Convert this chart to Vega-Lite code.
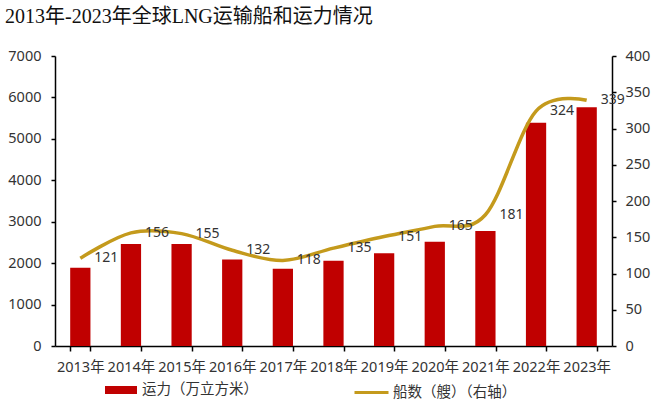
{
  "$schema": "https://vega.github.io/schema/vega-lite/v6.json",
  "width": 557,
  "height": 290,
  "autosize": {"type": "none"},
  "padding": {"left": 55, "top": 56, "right": 48, "bottom": 55},
  "background": "white",
  "title": {
    "text": "2013年-2023年全球LNG运输船和运力情况",
    "anchor": "start",
    "frame": "group",
    "font": "Liberation Serif, Noto Sans CJK SC",
    "fontSize": 20,
    "fontWeight": "normal",
    "color": "#111",
    "dx": -50,
    "offset": 21
  },
  "config": {
    "view": {"stroke": null},
    "font": "Noto Sans, Noto Sans CJK SC"
  },
  "data": {
    "values": [
      {"year": "2013年", "capacity": 1890, "ships": 121},
      {"year": "2014年", "capacity": 2460, "ships": 156},
      {"year": "2015年", "capacity": 2460, "ships": 155},
      {"year": "2016年", "capacity": 2090, "ships": 132},
      {"year": "2017年", "capacity": 1866, "ships": 118},
      {"year": "2018年", "capacity": 2059, "ships": 135},
      {"year": "2019年", "capacity": 2237, "ships": 151},
      {"year": "2020年", "capacity": 2518, "ships": 165},
      {"year": "2021年", "capacity": 2776, "ships": 181},
      {"year": "2022年", "capacity": 5390, "ships": 324},
      {"year": "2023年", "capacity": 5760, "ships": 339}
    ]
  },
  "encoding": {
    "x": {
      "field": "year",
      "type": "nominal",
      "sort": null,
      "scale": {"paddingInner": 0.6, "paddingOuter": 0.3},
      "axis": {
        "title": null,
        "labelAngle": 0,
        "tickBand": "extent",
        "domainColor": "#000",
        "domainWidth": 1.5,
        "tickColor": "#000",
        "tickWidth": 1.5,
        "tickSize": 5,
        "labelFontSize": 14.5,
        "labelColor": "#333",
        "labelPadding": 9
      }
    }
  },
  "layer": [
    {
      "mark": {"type": "bar", "color": "#C00000"},
      "encoding": {
        "y": {
          "field": "capacity",
          "type": "quantitative",
          "scale": {"domain": [0, 7000]},
          "axis": {
            "orient": "left",
            "title": null,
            "grid": false,
            "format": "d",
            "values": [0, 1000, 2000, 3000, 4000, 5000, 6000, 7000],
            "domainColor": "#000",
            "domainWidth": 1.5,
            "tickColor": "#000",
            "tickWidth": 1.5,
            "tickSize": 4,
            "labelFontSize": 14.5,
            "labelColor": "#333",
            "labelPadding": 10
          }
        },
        "color": {
          "datum": "运力（万立方米）",
          "scale": {"range": ["#C00000"]},
          "legend": {
            "orient": "none",
            "legendX": 50,
            "legendY": 318,
            "title": null,
            "padding": 0,
            "symbolType": "M-1,-0.25H1V0.25H-1Z",
            "symbolSize": 1024,
            "symbolStrokeWidth": 0,
            "labelFontSize": 14.5,
            "labelColor": "#333",
            "labelOffset": 5
          }
        }
      }
    },
    {
      "encoding": {
        "y": {
          "field": "ships",
          "type": "quantitative",
          "scale": {"domain": [0, 400]},
          "axis": {
            "orient": "right",
            "title": null,
            "grid": false,
            "values": [0, 50, 100, 150, 200, 250, 300, 350, 400],
            "domainColor": "#000",
            "domainWidth": 1.5,
            "tickColor": "#000",
            "tickWidth": 1.5,
            "tickSize": 4,
            "labelFontSize": 14.5,
            "labelColor": "#333",
            "labelPadding": 9
          }
        }
      },
      "layer": [
        {
          "mark": {"type": "line", "interpolate": "cardinal", "tension": 0, "strokeWidth": 3.5},
          "encoding": {
            "stroke": {
              "datum": "船数（艘）（右轴）",
              "scale": {"range": ["#C49A1C"]},
              "legend": {
                "orient": "none",
                "legendX": 298,
                "legendY": 318,
                "title": null,
                "padding": 0,
                "symbolType": "stroke",
                "symbolSize": 1156,
                "symbolStrokeWidth": 3,
                "labelFontSize": 14.5,
                "labelColor": "#333",
                "labelOffset": 3
              }
            }
          }
        },
        {
          "mark": {"type": "text", "dx": 26, "align": "center", "baseline": "middle", "fontSize": 14, "color": "#333"},
          "encoding": {
            "text": {"field": "ships", "type": "quantitative"}
          }
        }
      ]
    }
  ],
  "resolve": {"scale": {"y": "independent"}}
}
